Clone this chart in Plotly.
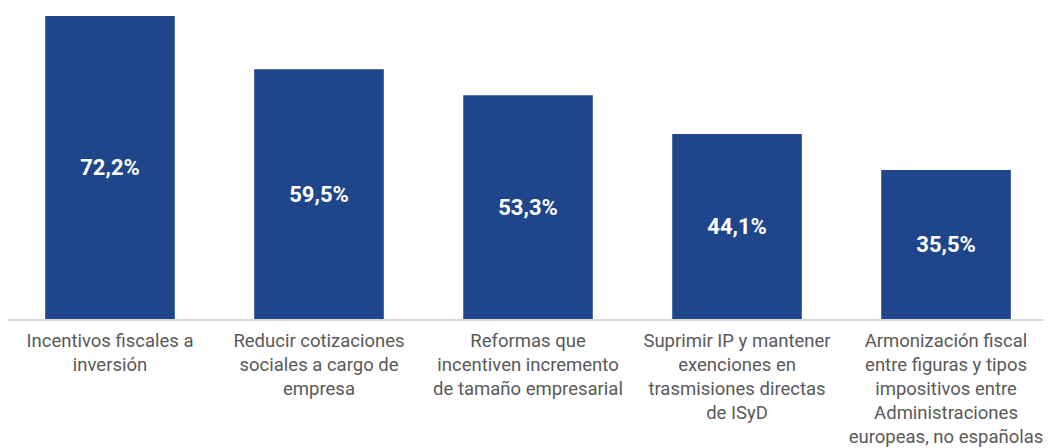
import plotly.graph_objects as go

categories = [
    "Incentivos fiscales a<br>inversión",
    "Reducir cotizaciones<br>sociales a cargo de<br>empresa",
    "Reformas que<br>incentiven incremento<br>de tamaño empresarial",
    "Suprimir IP y mantener<br>exenciones en<br>trasmisiones directas<br>de ISyD",
    "Armonización fiscal<br>entre figuras y tipos<br>impositivos entre<br>Administraciones<br>europeas, no españolas",
]
values = [72.2, 59.5, 53.3, 44.1, 35.5]
labels = [f"{v:.1f}%".replace(".", ",") for v in values]

fig = go.Figure(go.Bar(
    x=categories, y=values, text=labels,
    textposition="inside", insidetextanchor="middle",
    textfont=dict(family="Roboto", size=22, color="white", weight="bold"),
    marker=dict(color="#1f458b", line=dict(width=0)),
    hoverinfo="skip",
))
fig.update_layout(
    width=1044, height=440,
    margin=dict(l=0, r=0, t=0, b=129, autoexpand=False),
    paper_bgcolor="white", plot_bgcolor="white",
    bargap=0.38, showlegend=False,
    font=dict(family="Roboto", size=18.5, color="#595959"),
)
fig.update_yaxes(range=[0, 74.1], visible=False, automargin=False)
fig.update_xaxes(range=[-0.488, 4.507], showline=True, linecolor="#d9d9d9",
                 linewidth=2, ticks="", automargin=False, ticklabelstandoff=4,
                 tickfont=dict(family="Roboto", size=18.5, color="#595959"))
fig.write_html("out.html")
